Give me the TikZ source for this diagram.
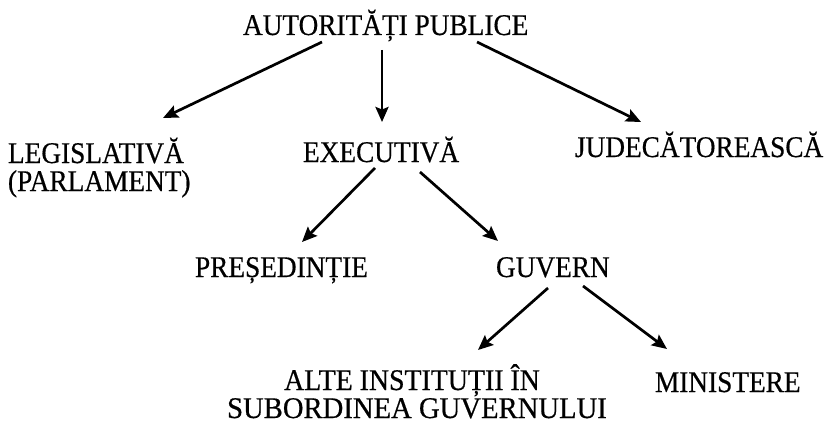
\documentclass[tikz,border=0pt]{standalone}
\usepackage{fontspec}
\setmainfont[FakeStretch=0.91,FakeBold=0.5]{Liberation Serif}
\usetikzlibrary{arrows.meta}
\begin{document}
\begin{tikzpicture}[x=1pt,y=-1pt,
  lbl/.style={inner sep=0pt,outer sep=0pt,font=\fontsize{30}{30}\selectfont},
  arr/.style={line width=2.7pt,-{Stealth[length=15pt,width=13pt,inset=2.5pt]}}]
\useasboundingbox (0,0) rectangle (829,425);
% level 0
\node[lbl,anchor=base west] (top) at (243,35) {AUTORITĂȚI PUBLICE};
% level 1
\node[lbl,anchor=base west] (leg1) at (8,163) {LEGISLATIVĂ};
\node[lbl,anchor=base west] (leg2) at (8,191) {(PARLAMENT)};
\node[lbl,anchor=base west] (exe) at (303,162) {EXECUTIVĂ};
\node[lbl,anchor=base west] (jud) at (575,157) {JUDECĂTOREASCĂ};
% level 2
\node[lbl,anchor=base west] (pres) at (195,277) {PREȘEDINȚIE};
\node[lbl,anchor=base west] (guv) at (496,277) {GUVERN};
% level 3
\node[lbl,anchor=base] (alte1) at (412,390) {\scalebox{1.02}[1]{ALTE INSTITUȚII ÎN}};
\node[lbl,anchor=base] (alte2) at (417,418) {\scalebox{1.05}[1]{SUBORDINEA GUVERNULUI}};
\node[lbl,anchor=base west] (min) at (655,392) {MINISTERE};
% arrow end points
\coordinate (t1) at (322,42);   \coordinate (l1) at (163,118);
\coordinate (t2) at (382,50);   \coordinate (e1) at (382,122);
\coordinate (t3) at (477,42);   \coordinate (j1) at (641,122);
\coordinate (e2) at (375,168);  \coordinate (p1) at (302,242);
\coordinate (e3) at (420,172);  \coordinate (g1) at (498,241);
\coordinate (g2) at (548,288);  \coordinate (a1) at (478,350);
\coordinate (g3) at (583,286);  \coordinate (m1) at (667,349);
% connectors
\draw[arr] (t1) -- (l1);
\draw[arr] (t2) -- (e1);
\draw[arr] (t3) -- (j1);
\draw[arr] (e2) -- (p1);
\draw[arr] (e3) -- (g1);
\draw[arr] (g2) -- (a1);
\draw[arr] (g3) -- (m1);
\end{tikzpicture}
\end{document}
